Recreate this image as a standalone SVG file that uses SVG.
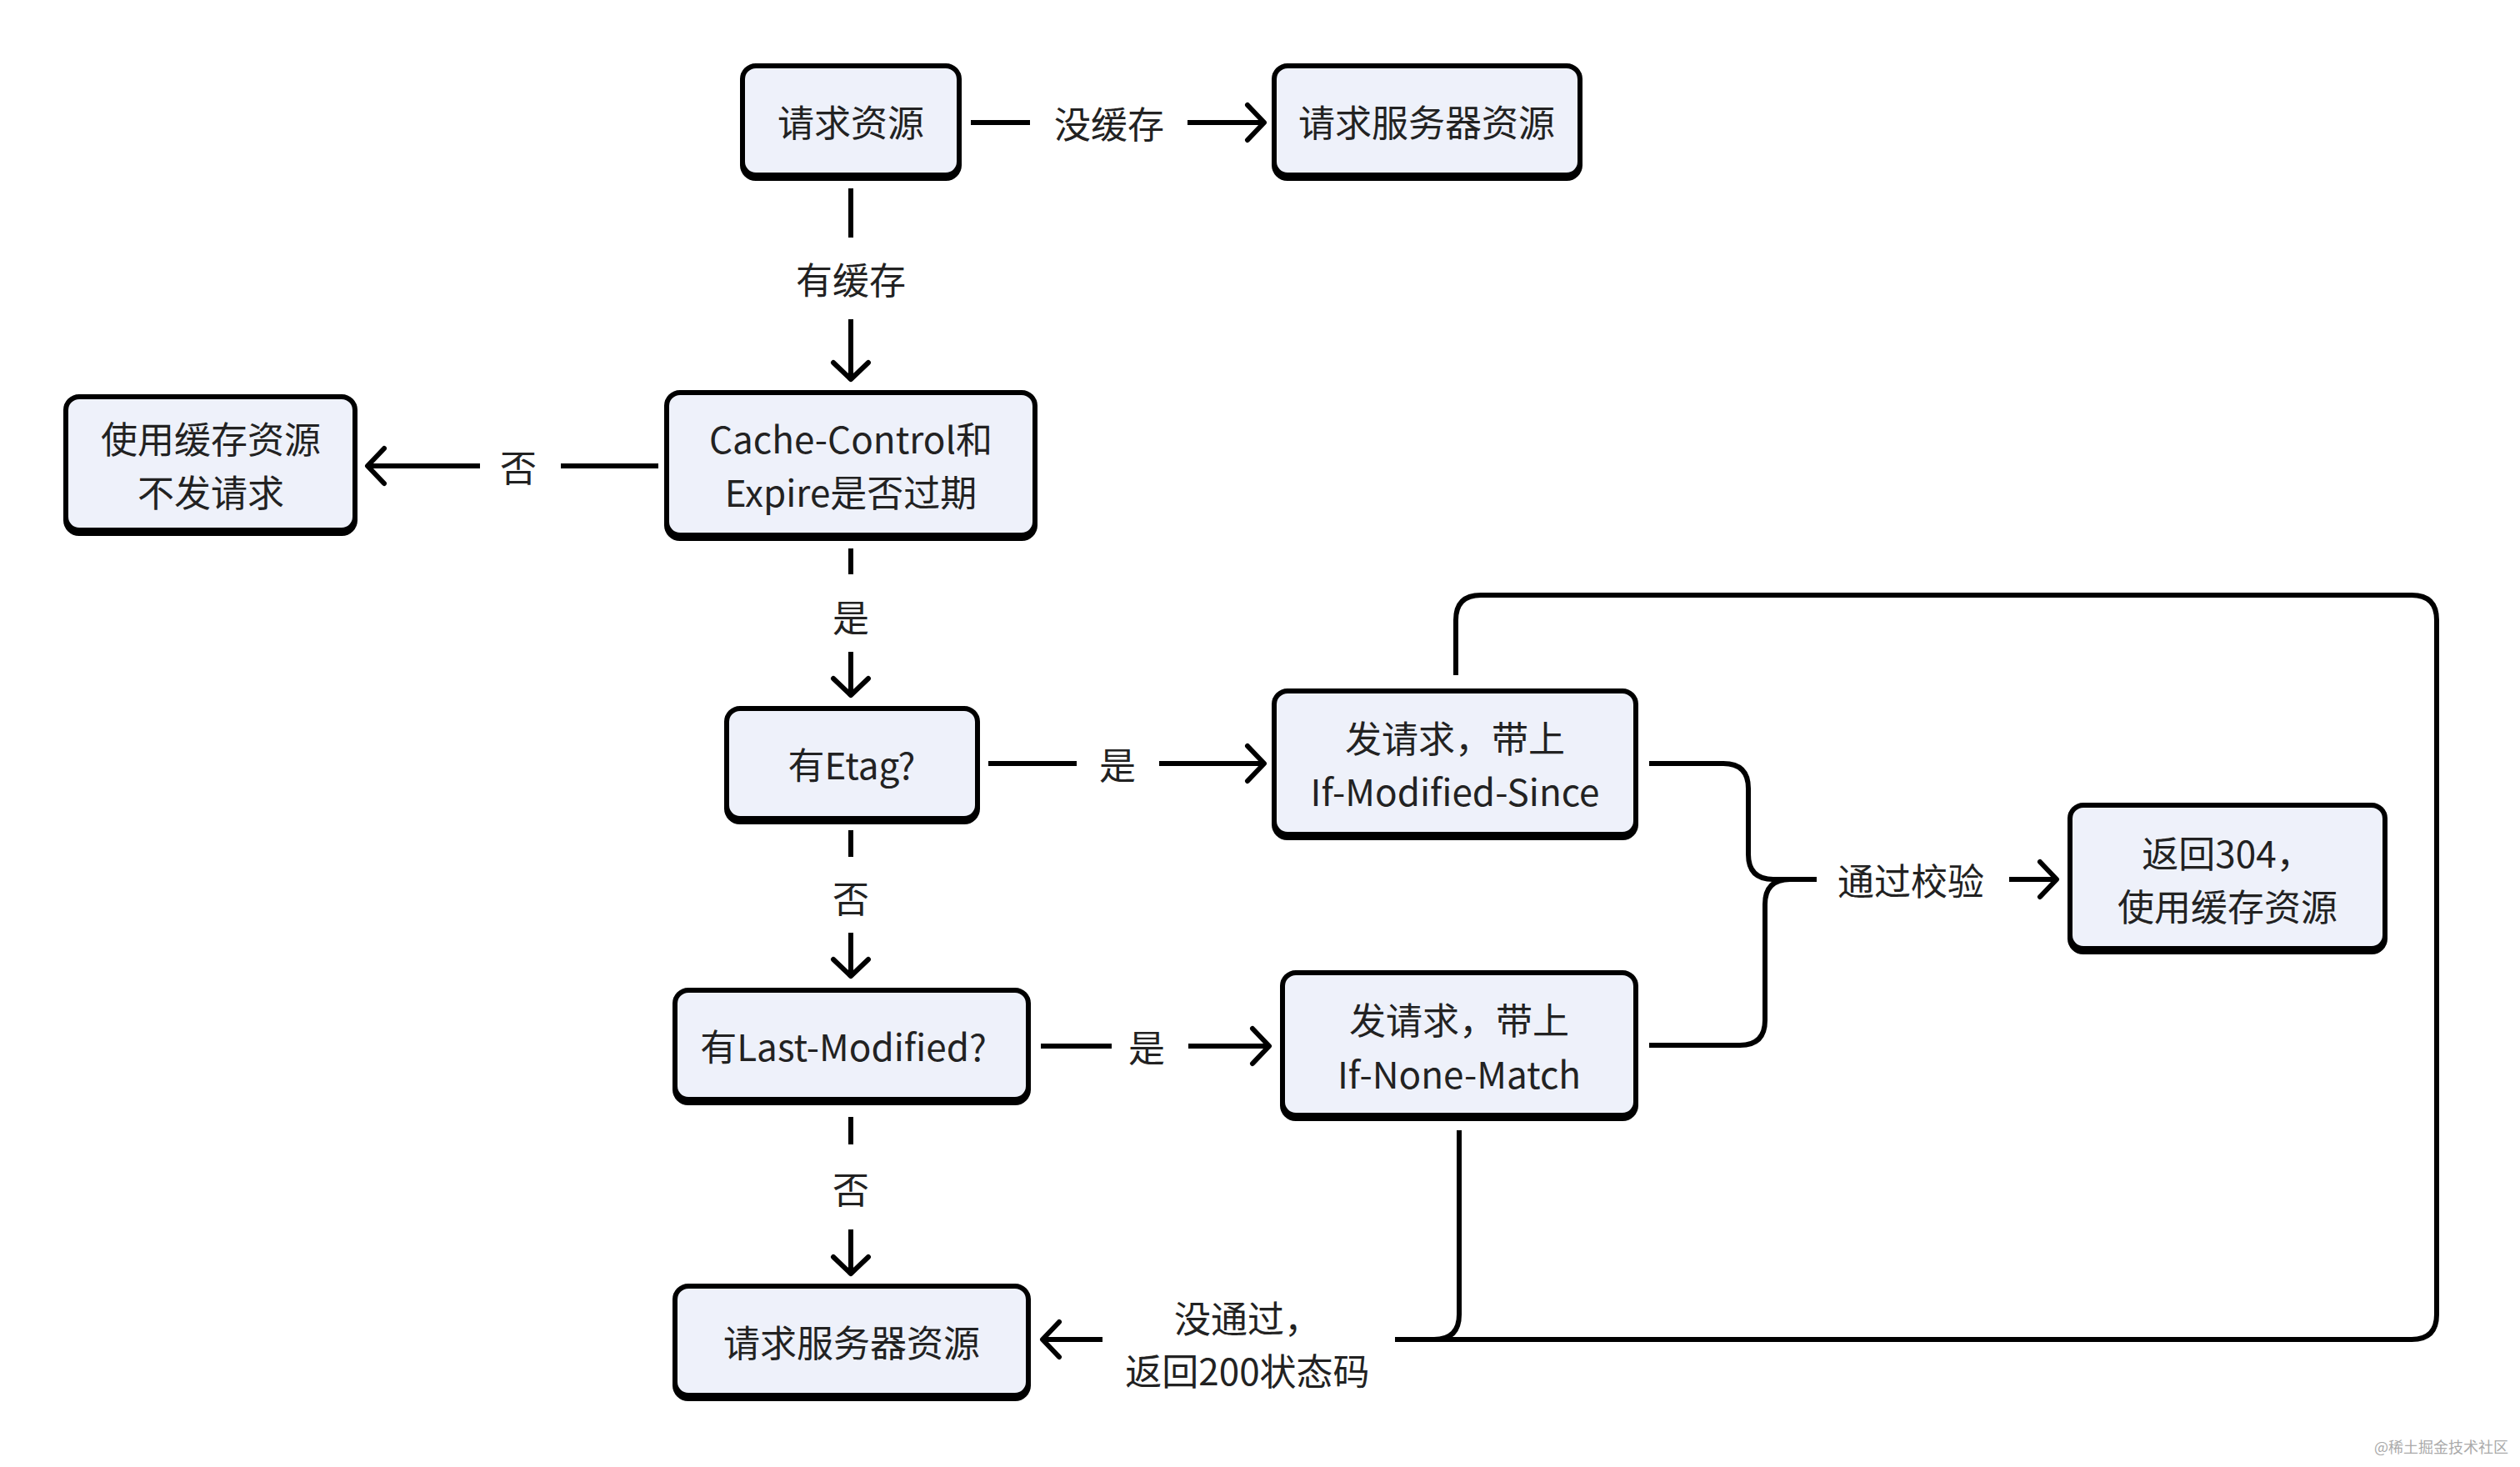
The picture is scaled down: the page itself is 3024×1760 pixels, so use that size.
<svg xmlns="http://www.w3.org/2000/svg" width="3024" height="1760" viewBox="0 0 3024 1760">
<defs>
<marker id="ar" markerUnits="userSpaceOnUse" markerWidth="40" markerHeight="50" viewBox="-22 -25 30 50" refX="3" refY="0" orient="auto">
<path d="M-18,-21 L2,0 L-18,21" fill="none" stroke="#000" stroke-width="6" stroke-linecap="round" stroke-linejoin="round"/>
</marker>
<filter id="sh" x="-5%" y="-5%" width="110%" height="120%"><feDropShadow dx="0" dy="4" stdDeviation="0.5" flood-color="#000" flood-opacity="1"/></filter>
</defs>
<style>
.b{fill:#eef1fa;stroke:#000;stroke-width:6;filter:url(#sh)}
.t{font-family:"Noto Sans CJK SC","Noto Sans",sans-serif;font-size:44px;fill:#222;text-anchor:middle;dominant-baseline:central}
.c{fill:none;stroke:#000;stroke-width:6}
.a{marker-end:url(#ar)}
</style>
<rect width="3024" height="1760" fill="#fff"/>
<g id="connectors">
<line class="c" x1="1165" y1="147" x2="1236" y2="147"/>
<line class="c a" x1="1425" y1="147" x2="1518" y2="147"/>
<text class="t" x="1331" y="147">没缓存</text>
<line class="c" x1="1021" y1="226" x2="1021" y2="285"/>
<line class="c a" x1="1021" y1="383" x2="1021" y2="456"/>
<text class="t" x="1021" y="334">有缓存</text>
<line class="c" x1="790" y1="559" x2="673" y2="559"/>
<line class="c a" x1="576" y1="559" x2="440" y2="559"/>
<text class="t" x="622" y="559">否</text>
<line class="c" x1="1021" y1="658" x2="1021" y2="689"/>
<line class="c a" x1="1021" y1="782" x2="1021" y2="835"/>
<text class="t" x="1021" y="739">是</text>
<line class="c" x1="1186" y1="916" x2="1292" y2="916"/>
<line class="c a" x1="1391" y1="916" x2="1518" y2="916"/>
<text class="t" x="1341" y="916">是</text>
<line class="c" x1="1021" y1="996" x2="1021" y2="1028"/>
<line class="c a" x1="1021" y1="1119" x2="1021" y2="1172"/>
<text class="t" x="1021" y="1076">否</text>
<line class="c" x1="1249" y1="1255" x2="1334" y2="1255"/>
<line class="c a" x1="1426" y1="1255" x2="1524" y2="1255"/>
<text class="t" x="1376" y="1255">是</text>
<line class="c" x1="1021" y1="1340" x2="1021" y2="1373"/>
<line class="c a" x1="1021" y1="1475" x2="1021" y2="1529"/>
<text class="t" x="1021" y="1425">否</text>
<path class="c" d="M1979 916 H2068 Q2098 916 2098 946 V1025 Q2098 1055 2128 1055 H2180"/>
<path class="c" d="M1979 1254 H2088 Q2118 1254 2118 1224 V1085 Q2118 1055 2148 1055 H2180"/>
<text class="t" x="2293" y="1055">通过校验</text>
<line class="c a" x1="2411" y1="1055" x2="2469" y2="1055"/>
<path class="c" d="M1747 810 V744 Q1747 714 1777 714 H2894 Q2924 714 2924 744 V1577 Q2924 1607 2894 1607 H1674"/>
<path class="c" d="M1751 1356 V1577 Q1751 1607 1721 1607"/>
<line class="c a" x1="1323" y1="1607" x2="1250" y2="1607"/>
<text class="t" x="1497" y="1580">没通过，</text>
<text class="t" x="1497" y="1643">返回200状态码</text>
</g>
<g id="n1"><rect class="b" x="891" y="79" width="260" height="131" rx="16"/><text class="t" x="1021" y="145">请求资源</text></g>
<g id="n2"><rect class="b" x="1529" y="79" width="367" height="131" rx="16"/><text class="t" x="1712" y="145">请求服务器资源</text></g>
<g id="n3"><rect class="b" x="800" y="471" width="442" height="171" rx="16"/><text class="t" x="1021" y="525">Cache-Control和</text><text class="t" x="1021" y="589">Expire是否过期</text></g>
<g id="n4"><rect class="b" x="79" y="476" width="347" height="160" rx="16"/><text class="t" x="253" y="525">使用缓存资源</text><text class="t" x="253" y="589">不发请求</text></g>
<g id="n5"><rect class="b" x="872" y="850" width="301" height="132" rx="16"/><text class="t" x="1022" y="916">有Etag?</text></g>
<g id="n6"><rect class="b" x="1529" y="829" width="434" height="172" rx="16"/><text class="t" x="1746" y="884">发请求，带上</text><text class="t" x="1746" y="948">If-Modified-Since</text></g>
<g id="n7"><rect class="b" x="2484" y="966" width="378" height="172" rx="16"/><text class="t" x="2673" y="1022">返回304，</text><text class="t" x="2673" y="1086">使用缓存资源</text></g>
<g id="n8"><rect class="b" x="810" y="1188" width="424" height="131" rx="16"/><text class="t" x="1012" y="1254">有Last-Modified?</text></g>
<g id="n9"><rect class="b" x="1539" y="1167" width="424" height="171" rx="16"/><text class="t" x="1751" y="1222">发请求，带上</text><text class="t" x="1751" y="1287">If-None-Match</text></g>
<g id="n10"><rect class="b" x="810" y="1543" width="424" height="131" rx="16"/><text class="t" x="1022" y="1609">请求服务器资源</text></g>
<text x="3010" y="1743" font-family="Noto Sans CJK SC, sans-serif" font-size="18" fill="#aaa" text-anchor="end">@稀土掘金技术社区</text>
</svg>
